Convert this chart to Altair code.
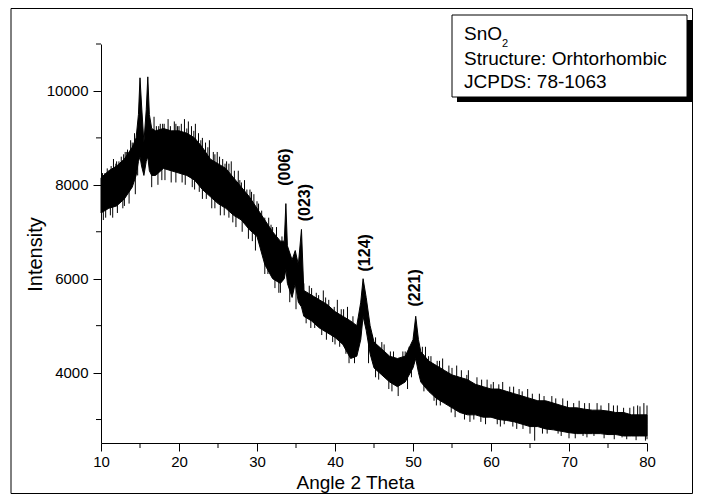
import altair as alt
import pandas as pd

# ---- XRD pattern envelope: angle, lower and upper edge of the noisy trace
env_x = [10, 11, 12, 13, 14, 14.5, 14.8, 15.0, 15.2, 15.5, 15.8, 16.0, 16.2, 16.5, 17, 18, 19, 20, 21, 22, 23, 24, 25,
         26, 27, 28, 29, 30, 31, 32, 33, 33.5, 33.7, 33.9, 34.5, 34.9, 35.3, 35.7, 36, 37, 38, 39, 40,
         41, 42, 42.8, 43.3, 43.6, 44, 44.5, 45, 46, 47, 48, 49, 50, 50.35, 50.7, 51, 52, 53, 54, 55,
         56, 57, 58, 59, 60, 61, 62, 63, 64, 65, 66, 67, 68, 69, 70, 71, 72, 73, 74, 75,
         76, 77, 78, 79, 80]
env_lo = [7400, 7500, 7550, 7700, 7950, 8200, 8500, 8600, 8400, 8200, 8500, 8600, 8300, 8200, 8200, 8350, 8300, 8250, 8200, 8100, 7900, 7750, 7600,
          7500, 7350, 7250, 7050, 6900, 6300, 6000, 5900, 6000, 6200, 5900, 5600, 5900, 5500, 5400, 5200, 5100, 4950, 4850, 4750,
          4600, 4300, 4350, 4700, 5200, 4900, 4400, 4100, 3950, 3800, 3700, 3800, 4100, 4300, 4000, 3800, 3600, 3450, 3350, 3250,
          3150, 3100, 3100, 3050, 3050, 3000, 2980, 2950, 2900, 2850, 2850, 2800, 2780, 2750, 2720, 2700, 2700, 2700, 2700, 2680,
          2680, 2650, 2650, 2650, 2650]
env_hi = [8150, 8300, 8400, 8550, 8800, 9000, 9500, 10280, 9700, 8900, 9600, 10300, 9500, 9200, 9150, 9200, 9150, 9150, 9100, 9000, 8800, 8550, 8450,
          8350, 8150, 7950, 7750, 7500, 7250, 7000, 6800, 6800, 7600, 6700, 6400, 6600, 6300, 7050, 5750, 5650, 5550, 5450, 5300,
          5200, 5100, 5000, 5500, 6000, 5600, 5000, 4650, 4500, 4350, 4300, 4350, 4700, 5200, 4700, 4450, 4250, 4150, 4050, 3950,
          3900, 3850, 3750, 3700, 3650, 3650, 3600, 3550, 3500, 3450, 3400, 3400, 3350, 3300, 3250, 3250, 3220, 3200, 3200, 3180,
          3150, 3150, 3100, 3100, 3100]

# ---- single noise spikes of the trace: angle, bottom, top
spike_x = [10.8, 11.6, 12.3, 13.1, 13.8, 14.3, 16.8, 17.6, 18.6, 19.4, 20.3, 21.2, 22.1, 23.0, 23.9, 24.9, 25.6, 26.7,
           27.6, 28.4, 29.6, 30.6, 32.5, 37.0, 38.5, 40.3, 41.6, 47.5, 51.6, 53.8, 55.6, 57.1, 59.5, 61.5, 64.7, 67.8,
           71.3, 73.6, 76.2, 79.6,
           10.3, 11.2, 12.8, 13.6, 16.5, 17.3, 19.0, 20.8, 21.7, 22.6, 24.2, 25.3, 26.4, 27.3, 28.9, 29.8, 31.4, 32.3,
           34.2, 35.0, 36.3, 38.3, 39.7, 41.4, 45.6, 48.1, 52.7, 54.9, 56.6, 58.7, 60.8, 62.8, 65.6, 67.2, 70.0, 71.8,
           74.5, 77.4, 79.8,
           10.5, 11.9, 12.6, 13.4, 14.0, 17.1, 18.1, 19.8, 20.7, 21.6, 22.5, 23.4, 24.4, 25.2, 26.1, 27.1, 28.0, 29.1,
           30.2, 31.0, 31.8, 33.2, 36.7, 37.6, 39.2, 39.9, 40.8, 42.3, 44.8, 46.3, 48.7, 49.5, 51.2, 52.3, 53.1, 54.6,
           56.2, 58.2, 60.3, 62.4, 63.6, 66.2, 69.2, 72.6, 75.1, 77.8, 78.8,
           11.5, 14.7, 18.2, 23.5, 26.9, 30.4, 33.0, 37.4, 40.6, 42.5, 46.9, 49.3, 53.5, 57.8, 61.7, 64.1, 68.6, 73.2,
           76.8,
           10.2, 11.3, 12.0, 12.9, 13.3, 17.4, 17.9, 18.9, 19.6, 20.0, 21.0, 21.9, 22.8, 23.7, 24.6, 25.9, 26.4, 27.8,
           28.7, 29.3, 30.0, 31.5, 32.0, 36.0, 37.9, 38.8, 41.1, 43.0, 45.2, 46.0, 47.1, 49.0, 52.0, 53.4, 55.0, 56.9,
           58.8, 60.0, 61.0, 62.9, 64.0, 65.3, 66.8, 68.3, 69.8, 70.6, 72.0, 74.1, 75.7, 77.0, 78.3, 79.1, 80.0,
           10.6, 12.1, 13.0, 14.4, 17.8, 19.6, 20.4, 22.0, 23.0, 24.6, 25.8, 28.1, 29.4, 31.0, 32.8, 36.9, 38.9, 40.0,
           41.8, 44.3, 45.2, 47.3, 49.8, 51.4, 53.0, 55.4, 57.3, 59.3, 61.2, 63.3, 65.0, 66.6, 69.0, 70.8, 72.3, 75.8,
           78.6, 80.0]
spike_lo = [7800, 7900, 8000, 8100, 8300, 8600, 8700, 8700, 8700, 8700, 8700, 8600, 8500, 8300, 8100, 8000, 7900, 7800,
            7600, 7400, 7200, 6900, 6400, 5300, 5200, 5000, 4850, 4000, 4100, 3700, 3600, 3450, 3400, 3300, 3200, 3100,
            3000, 3000, 2950, 2900,
            7250, 7350, 7500, 7600, 7950, 8000, 8050, 8000, 7950, 7850, 7500, 7350, 7300, 7100, 6850, 6600, 6100, 5800,
            5500, 5350, 5050, 4800, 4650, 4400, 3850, 3500, 3400, 3150, 3000, 2950, 2900, 2850, 2550, 2700, 2600, 2650,
            2600, 2580, 2550,
            7900, 8000, 8100, 8200, 8400, 8800, 8800, 8700, 8700, 8600, 8500, 8300, 8200, 8100, 8000, 7800, 7600, 7400,
            7100, 6800, 6600, 6400, 5400, 5300, 5100, 5000, 4900, 4700, 4400, 4200, 4000, 4100, 4200, 4000, 3800, 3700,
            3600, 3400, 3300, 3200, 3200, 3100, 3000, 2950, 2950, 2900, 2900,
            7300, 8200, 8100, 7700, 7200, 6700, 5700, 4950, 4550, 4200, 3650, 3650, 3300, 3000, 2900, 2800, 2700, 2650,
            2620,
            7800, 7900, 8000, 8100, 8200, 8700, 8700, 8700, 8700, 8700, 8600, 8600, 8400, 8300, 8100, 8000, 7900, 7600,
            7400, 7300, 7100, 6700, 6600, 5500, 5200, 5100, 4900, 4700, 4300, 4200, 4100, 4000, 3950, 3850, 3700, 3500,
            3400, 3350, 3350, 3250, 3200, 3150, 3100, 3050, 3000, 3000, 2950, 2950, 2950, 2900, 2900, 2900, 2900,
            7300, 7400, 7550, 7800, 8100, 8050, 8050, 7900, 7700, 7500, 7350, 7000, 6800, 6100, 5700, 4950, 4700, 4600,
            4200, 4200, 3900, 3600, 3900, 3600, 3300, 3050, 2950, 2900, 2850, 2800, 2700, 2700, 2650, 2600, 2620, 2580,
            2560, 2580]
spike_hi = [8350, 8550, 8500, 8700, 8950, 9100, 9450, 9300, 9400, 9350, 9300, 9350, 9300, 9000, 8950, 8700, 8550, 8500,
            8300, 8100, 7800, 7450, 7100, 5800, 5750, 5550, 5400, 4450, 4550, 4300, 4150, 4050, 3850, 3800, 3650, 3500,
            3400, 3350, 3300, 3350,
            7800, 7900, 8000, 8100, 8500, 8600, 8700, 8600, 8500, 8400, 8100, 8000, 7900, 7700, 7400, 7200, 6800, 6500,
            6000, 5900, 5500, 5200, 5100, 4900, 4300, 4000, 3900, 3700, 3500, 3400, 3300, 3250, 3100, 3100, 3000, 3000,
            2950, 2900, 2900,
            8250, 8450, 8600, 8750, 8900, 9250, 9300, 9250, 9400, 9250, 9100, 8900, 8700, 8600, 8500, 8300, 8050, 7900,
            7600, 7300, 7150, 6900, 5850, 5700, 5550, 5400, 5350, 5200, 4800, 4600, 4450, 4550, 4550, 4350, 4250, 4150,
            4050, 3900, 3800, 3700, 3650, 3550, 3450, 3350, 3350, 3250, 3300,
            7800, 8700, 8600, 8200, 7700, 7100, 6200, 5350, 4950, 4600, 4050, 4050, 3700, 3400, 3250, 3150, 3050, 2950,
            2950,
            8250, 8400, 8500, 8650, 8700, 9250, 9300, 9250, 9300, 9250, 9200, 9150, 8950, 8800, 8650, 8450, 8450, 8100,
            7900, 7850, 7650, 7300, 7100, 5900, 5650, 5600, 5350, 5150, 4750, 4650, 4450, 4450, 4350, 4250, 4100, 3950,
            3850, 3750, 3750, 3700, 3600, 3550, 3500, 3450, 3400, 3350, 3350, 3300, 3300, 3250, 3280, 3280, 3300,
            7800, 7900, 8000, 8400, 8600, 8500, 8500, 8400, 8200, 7900, 7800, 7500, 7300, 6600, 6200, 5400, 5100, 5000,
            4600, 4700, 4300, 4000, 4300, 4000, 3650, 3450, 3350, 3300, 3200, 3150, 3050, 3000, 3000, 2950, 2950, 2900,
            2850, 2900]

# ---- peak labels
peak_labels = ["(006)", "(023)", "(124)", "(221)"]
peak_x = [33.65, 36.2, 43.8, 50.3]
peak_y = [8377, 7620, 6552, 5805]

# ---- axes
x_major = [10, 20, 30, 40, 50, 60, 70, 80]
x_minor = [15, 25, 35, 45, 55, 65, 75]
y_major = [4000, 6000, 8000, 10000]
y_minor = [3000, 5000, 7000, 9000, 11000]

legend_lines = ["Structure: Orhtorhombic", "JCPDS: 78-1063"]

FONT = "Liberation Sans"
W, H = 546, 399

env = pd.DataFrame({"x": env_x, "lo": env_lo, "hi": env_hi})
spikes = pd.DataFrame({"x": spike_x, "lo": spike_lo, "hi": spike_hi})
peaks = pd.DataFrame({"x": peak_x, "y": peak_y, "label": peak_labels})
xminor = pd.DataFrame({"x": x_minor})
yminor = pd.DataFrame({"y": y_minor})
one = pd.DataFrame({"a": [0]})

xs = alt.Scale(domain=[10, 80], nice=False, zero=False)
ys = alt.Scale(domain=[2500, 11000], nice=False, zero=False)

x_axis = alt.Axis(values=x_major, tickSize=8, labelFontSize=15, labelFont=FONT, labelPadding=3, labelFlush=False,
                  title="Angle 2 Theta", titleFont=FONT, titleFontSize=19, titleFontWeight="normal",
                  titleX=254, titleY=45, titleBaseline="alphabetic", titleAlign="center", zindex=1,
                  grid=False, domainColor="black", tickColor="black", labelColor="black", titleColor="black")
y_axis = alt.Axis(values=y_major, format="d", tickSize=8, labelFontSize=15, labelFont=FONT, labelPadding=5,
                  labelFlush=False,
                  title="Intensity", titleFont=FONT, titleFontSize=20, titleFontWeight="normal",
                  titleX=-66, titleY=210, titleAngle=270, titleBaseline="middle", titleAlign="center", zindex=1,
                  grid=False, domainColor="black", tickColor="black", labelColor="black", titleColor="black")

frame = alt.Chart(one).mark_rect(fill="transparent", stroke="black", strokeWidth=1).encode(
    x=alt.value(-90), x2=alt.value(591.5), y=alt.value(-35.5), y2=alt.value(449.5))

band = alt.Chart(env).mark_area(color="black", stroke="black", strokeWidth=1).encode(
    x=alt.X("x:Q", scale=xs, axis=x_axis),
    y=alt.Y("lo:Q", scale=ys, axis=y_axis),
    y2="hi:Q")

spk = alt.Chart(spikes).mark_rule(color="black", strokeWidth=1).encode(
    x=alt.X("x:Q", scale=xs), y=alt.Y("lo:Q", scale=ys), y2="hi:Q")

xm = alt.Chart(xminor).mark_rule(color="black", strokeWidth=1).encode(
    x=alt.X("x:Q", scale=xs), y=alt.value(H), y2=alt.value(H + 5))
ym = alt.Chart(yminor).mark_rule(color="black", strokeWidth=1).encode(
    y=alt.Y("y:Q", scale=ys), x=alt.value(0), x2=alt.value(-5))

labels = alt.Chart(peaks).mark_text(angle=270, font=FONT, fontSize=16, fontWeight="bold",
                                    align="center", baseline="middle", color="black").encode(
    x=alt.X("x:Q", scale=xs), y=alt.Y("y:Q", scale=ys), text="label:N")

shadow = alt.Chart(one).mark_rect(fill="black").encode(
    x=alt.value(356), x2=alt.value(591), y=alt.value(-24), y2=alt.value(58))
box = alt.Chart(one).mark_rect(fill="white", stroke="black", strokeWidth=1).encode(
    x=alt.value(351), x2=alt.value(586), y=alt.value(-29), y2=alt.value(53))

t1 = alt.Chart(one).mark_text(font=FONT, fontSize=19, align="left", baseline="alphabetic", color="black").encode(
    x=alt.value(363), y=alt.value(-4), text=alt.value("SnO"))
t1s = alt.Chart(one).mark_text(font=FONT, fontSize=11, align="left", baseline="alphabetic", color="black").encode(
    x=alt.value(401), y=alt.value(3), text=alt.value("2"))
t2 = alt.Chart(one).mark_text(font=FONT, fontSize=19, align="left", baseline="alphabetic", color="black").encode(
    x=alt.value(363), y=alt.value(21), text=alt.value(legend_lines[0]))
t3 = alt.Chart(one).mark_text(font=FONT, fontSize=19, align="left", baseline="alphabetic", color="black").encode(
    x=alt.value(363), y=alt.value(44), text=alt.value(legend_lines[1]))

chart = alt.layer(frame, band, spk, xm, ym, labels, shadow, box, t1, t1s, t2, t3).properties(
    width=W, height=H,
    autosize=alt.AutoSizeParams(type="none"),
    padding={"left": 93, "top": 36, "right": 46, "bottom": 51},
    background="white",
).configure_view(stroke=None)

chart.save("out.html", embed_options={"renderer": "svg", "actions": False})
